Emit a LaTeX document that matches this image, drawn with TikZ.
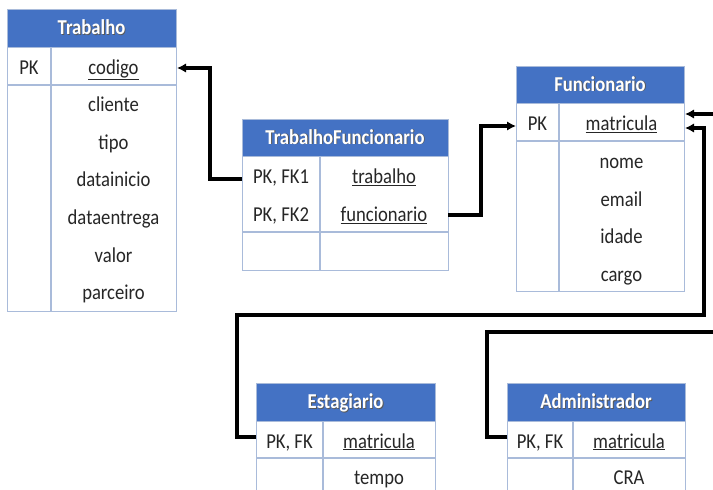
\documentclass[tikz,border=0pt]{standalone}
\usepackage{fontspec}
\setmainfont{Carlito}[FakeStretch=0.88]
\usetikzlibrary{arrows.meta}
\definecolor{hdr}{HTML}{4472C4}
\definecolor{gridc}{HTML}{A9BBDA}
\newcommand\hdtext[1]{\makebox[0pt][l]{\kern0.9pt\raisebox{-0.9pt}{\textcolor{black!65}{#1}}}#1}
\tikzset{
  tblbox/.style={draw=gridc, line width=1.4pt, inner sep=0pt, anchor=north west},
  hdrbox/.style={fill=hdr, draw=gridc, line width=1.4pt, inner sep=0pt, anchor=north west},
  gridline/.style={draw=gridc, line width=1.4pt},
  hdrtxt/.style={text=white, font=\bfseries\fontsize{21.2}{25}\selectfont, anchor=base, inner sep=0pt},
  cell/.style={text=black!85, font=\fontsize{21.2}{25}\selectfont, anchor=base, inner sep=0pt},
  link/.style={draw=black, line width=3.1pt, -{Latex[length=9pt,width=9.5pt]}},
}
\begin{document}
\begin{tikzpicture}[x=1pt,y=-1pt]
\useasboundingbox (0,0) rectangle (713,490);
\clip (0,0) rectangle (713,490);
\fill[white] (0,0) rectangle (713,490);

% ---------- Trabalho ----------
\node[tblbox, minimum width=169pt, minimum height=302pt] (trab) at (7,9) {};
\node[hdrbox, minimum width=169pt, minimum height=38pt] (trabH) at (7,9) {};
\draw[gridline] (7,85) -- (176,85);
\draw[gridline] (51,47) -- (51,311);
\node[hdrtxt] (trabT) at (91.5,34.5) {\hdtext{Trabalho}};
\node[cell] (trabPK) at (29,74) {PK};
\node[cell] (trabCod) at (113.5,74) {\underline{codigo}};
\node[cell] (trabC1) at (113.5,111.5) {cliente};
\node[cell] (trabC2) at (113.5,149.2) {tipo};
\node[cell] (trabC3) at (113.5,186.8) {datainicio};
\node[cell] (trabC4) at (113.5,224.5) {dataentrega};
\node[cell] (trabC5) at (113.5,262.2) {valor};
\node[cell] (trabC6) at (113.5,299.8) {parceiro};

% ---------- TrabalhoFuncionario ----------
\node[tblbox, minimum width=206pt, minimum height=151pt] (tf) at (242,119) {};
\node[hdrbox, minimum width=206pt, minimum height=37pt] (tfH) at (242,119) {};
\draw[gridline] (242,232) -- (448,232);
\draw[gridline] (320,156) -- (320,270);
\node[hdrtxt] (tfT) at (345,144) {\hdtext{TrabalhoFuncionario}};
\node[cell] (tfK1) at (281,183.5) {PK, FK1};
\node[cell] (tfA1) at (384,183.5) {\underline{trabalho}};
\node[cell] (tfK2) at (281,221.5) {PK, FK2};
\node[cell] (tfA2) at (384,221.5) {\underline{funcionario}};

% ---------- Funcionario ----------
\node[tblbox, minimum width=168pt, minimum height=225pt] (fun) at (516,66) {};
\node[hdrbox, minimum width=168pt, minimum height=37pt] (funH) at (516,66) {};
\draw[gridline] (516,141) -- (684,141);
\draw[gridline] (559,103) -- (559,291);
\node[hdrtxt] (funT) at (600,91) {\hdtext{Funcionario}};
\node[cell] (funPK) at (537.5,130.5) {PK};
\node[cell] (funMat) at (621.5,130.5) {\underline{matricula}};
\node[cell] (funA1) at (621.5,168.5) {nome};
\node[cell] (funA2) at (621.5,206) {email};
\node[cell] (funA3) at (621.5,243.5) {idade};
\node[cell] (funA4) at (621.5,281) {cargo};

% ---------- Estagiario ----------
\node[tblbox, minimum width=179pt, minimum height=130pt] (est) at (256,383) {};
\node[hdrbox, minimum width=179pt, minimum height=38pt] (estH) at (256,383) {};
\draw[gridline] (256,458) -- (435,458);
\draw[gridline] (323,421) -- (323,513);
\node[hdrtxt] (estT) at (345.5,408.5) {\hdtext{Estagiario}};
\node[cell] (estPK) at (289.5,448) {PK, FK};
\node[cell] (estMat) at (379,448) {\underline{matricula}};
\node[cell] (estA1) at (379,484) {tempo};

% ---------- Administrador ----------
\node[tblbox, minimum width=178pt, minimum height=130pt] (adm) at (507,383) {};
\node[hdrbox, minimum width=178pt, minimum height=38pt] (admH) at (507,383) {};
\draw[gridline] (507,458) -- (685,458);
\draw[gridline] (573,421) -- (573,513);
\node[hdrtxt] (admT) at (596,408.5) {\hdtext{Administrador}};
\node[cell] (admPK) at (540,448) {PK, FK};
\node[cell] (admMat) at (629,448) {\underline{matricula}};
\node[cell] (admA1) at (629,484) {CRA};

% ---------- connector ends ----------
\coordinate (pTF1) at (242,179);
\coordinate (pTF2) at (448,215);
\coordinate (pTrab) at (177,68);
\coordinate (pFunL) at (516,126);
\coordinate (pFunR1) at (685,114);
\coordinate (pFunR2) at (685,128);
\coordinate (pEst) at (256,437);
\coordinate (pAdm) at (507,437);
\coordinate (offR) at (725,332);

% ---------- connectors ----------
\draw[link] (pTF1) -- ++(-32,0) |- (pTrab);
\draw[link] (pTF2) -- ++(33,0) |- (pFunL);
\draw[link] (pEst) -- ++(-19,0) |- (704,315) |- (pFunR2);
\draw[link] (pAdm) -- ++(-20,0) |- (offR) |- (pFunR1);
\end{tikzpicture}
\end{document}
